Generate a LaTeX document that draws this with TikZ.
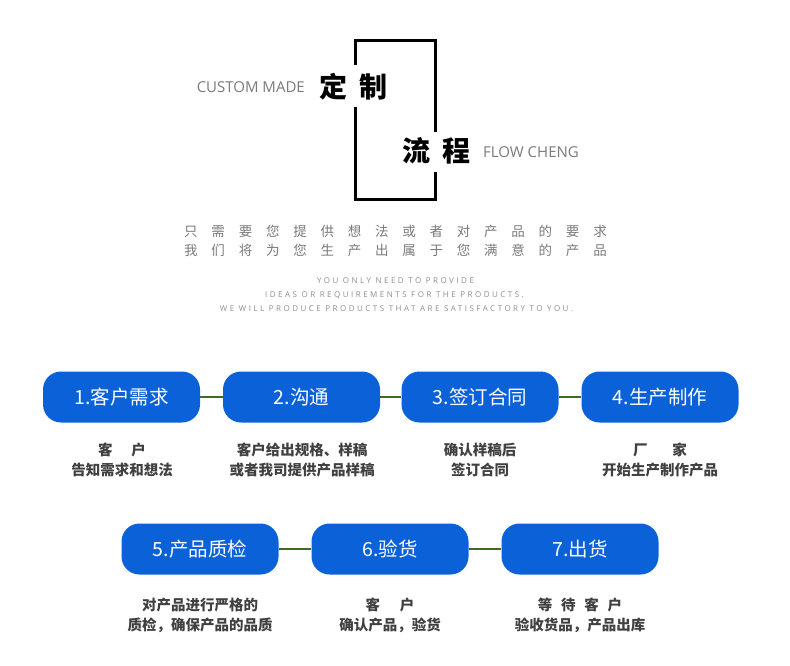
\documentclass[tikz,border=0pt]{standalone}
\usepackage{fontspec}
\setmainfont{Open Sans}
\newfontfamily\cjk{Noto Sans CJK SC}
\newfontfamily\cjkspaced[LetterSpace=102]{Noto Sans CJK SC}
\newfontfamily\latspaced[LetterSpace=31]{Open Sans}
\definecolor{boxblue}{HTML}{0B62D8}
\definecolor{linkgreen}{HTML}{3C6E1E}
\definecolor{headgray}{HTML}{7A7A7A}
\definecolor{descgray}{HTML}{404040}
\tikzset{
  stepbox/.style={fill=boxblue, rounded corners=18pt, minimum width=157pt, minimum height=51pt,
    text=white, font=\cjk\fontsize{19.5}{21}\selectfont, inner sep=0pt},
  conn/.style={draw=linkgreen, line width=2pt},
  desc/.style={align=center, text=descgray, font=\cjk\bfseries\fontsize{14.5}{20}\selectfont, inner sep=0pt},
  headcn/.style={font=\cjk\bfseries\fontsize{28}{30}\selectfont, text=black, inner sep=0pt},
  heade/.style={font=\fontsize{15}{17}\selectfont, text=headgray, inner sep=0pt},
  introcn/.style={inner sep=0pt, text=headgray, font=\cjkspaced\fontsize{13.5}{19}\selectfont},
  introen/.style={inner sep=0pt, text=headgray!85, font=\latspaced\fontsize{8}{10}\selectfont},
  frame/.style={line width=3pt, draw=black}
}
\begin{document}
\begin{tikzpicture}[x=1pt,y=-1pt]
\useasboundingbox (0,0) rectangle (790,665);
% header frame
\coordinate (fa) at (355,65);
\coordinate (fb) at (355,40);
\coordinate (fc) at (435,40);
\coordinate (fd) at (435,132);
\coordinate (fe) at (435,172);
\coordinate (ff) at (435,199);
\coordinate (fg) at (355,199);
\coordinate (fh) at (355,107);
\draw[frame] (fa) -- (fb) -- (fc) -- (fd);
\draw[frame] (fe) -- (ff) -- (fg) -- (fh);
\node[headcn] (dz) at (353.5,87) {定\hspace{13pt}制};
\node[headcn] (lc) at (436.5,151) {流\hspace{12pt}程};
\node[heade, anchor=east] (cm) at (305,87) {CUSTOM MADE};
\node[heade, anchor=west] (fl) at (483,152) {FLOW CHENG};
% intro text
\node[introcn] (l1) at (395.5,231) {只需要您提供想法或者对产品的要求};
\node[introcn] (l2) at (395.5,250) {我们将为您生产出属于您满意的产品};
\node[introen] (e1) at (395.5,281) {YOU ONLY NEED TO PROVIDE};
\node[introen] (e2) at (394.5,295) {IDEAS OR REQUIREMENTS FOR THE PRODUCTS.};
\node[introen] (e3) at (396.5,309) {WE WILL PRODUCE PRODUCTS THAT ARE SATISFACTORY TO YOU.};
% row 1
\node[stepbox] (b1) at (121.5,397) {1.客户需求};
\node[stepbox] (b2) at (301.5,397) {2.沟通};
\node[stepbox] (b3) at (480,397) {3.签订合同};
\node[stepbox] (b4) at (660,397) {4.生产制作};
\draw[conn] (b1.east) -- (b2.west);
\draw[conn] (b2.east) -- (b3.west);
\draw[conn] (b3.east) -- (b4.west);
\node[desc] (d1) at (122,460) {客\hspace{1.3em}户\\告知需求和想法};
\node[desc] (d2) at (302,460) {客户给出规格、样稿\\或者我司提供产品样稿};
\node[desc] (d3) at (480,460) {确认样稿后\\签订合同};
\node[desc] (d4) at (660,460) {厂\hspace{1.7em}家\\开始生产制作产品};
% row 2
\node[stepbox] (b5) at (200,549) {5.产品质检};
\node[stepbox] (b6) at (390,549) {6.验货};
\node[stepbox] (b7) at (580,549) {7.出货};
\draw[conn] (b5.east) -- (b6.west);
\draw[conn] (b6.east) -- (b7.west);
\node[desc] (d5) at (200,615) {对产品进行严格的\\质检，确保产品的品质};
\node[desc] (d6) at (390,615) {客\hspace{1.35em}户\\确认产品，验货};
\node[desc] (d7) at (580,615) {等\hspace{0.6em}待\hspace{0.6em}客\hspace{0.6em}户\\验收货品，产品出库};
\end{tikzpicture}
\end{document}
